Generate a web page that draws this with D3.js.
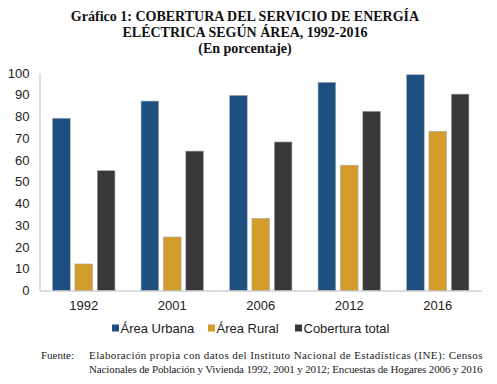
<!DOCTYPE html>
<html>
<head>
<meta charset="utf-8">
<script src="https://cdn.jsdelivr.net/npm/d3@7"></script>
<style>
  body { margin: 0; background: #fff; }
  svg { display: block; }
</style>
</head>
<body>
<div id="chart"></div>
<script>
const years = ['1992', '2001', '2006', '2012', '2016'];
const series = ['Área Urbana', 'Área Rural', 'Cobertura total'];
const urbana = [79.2, 87.1, 89.7, 95.7, 99.2];
const rural = [12.2, 24.6, 33.2, 57.6, 73.2];
const total = [55.1, 64.1, 68.3, 82.4, 90.3];
const yTicks = [0, 10, 20, 30, 40, 50, 60, 70, 80, 90, 100];
const colors = ['#1d4f80', '#d29d2b', '#383838'];
const titleLines = [
  'Gráfico 1: COBERTURA DEL SERVICIO DE ENERGÍA',
  'ELÉCTRICA SEGÚN ÁREA, 1992-2016',
  '(En porcentaje)'
];
const sourceLines = [
  'Elaboración propia con datos del Instituto Nacional de Estadísticas (INE): Censos',
  'Nacionales de Población y Vivienda 1992, 2001 y 2012; Encuestas de Hogares 2006 y 2016'
];

const width = 497;
const height = 384;
const plot = { left: 39.5, right: 482, top: 73, bottom: 290.5 };

const svg = d3.select('#chart').append('svg')
    .attr('width', width)
    .attr('height', height);

// title
svg.append('g')
  .selectAll('text')
  .data(titleLines)
  .join('text')
    .attr('x', 245)
    .attr('y', (d, i) => [21, 37, 53][i])
    .attr('text-anchor', 'middle')
    .attr('font-family', '"Liberation Serif", "Times New Roman", serif')
    .attr('font-weight', 'bold')
    .attr('font-size', 14)
    .attr('fill', '#111')
    .text(d => d);

const x0 = d3.scaleBand()
    .domain(years)
    .range([plot.left, plot.right])
    .paddingInner(0.295)
    .paddingOuter(0.1475);

const x1 = d3.scaleBand()
    .domain(d3.range(series.length))
    .range([0, x0.bandwidth()])
    .paddingInner(0.21);

const y = d3.scaleLinear()
    .domain([0, 100])
    .range([plot.bottom, plot.top]);

const table = years.map((year, i) => ({
  year,
  values: [urbana[i], rural[i], total[i]]
}));

// y axis
const yAxis = svg.append('g')
    .attr('transform', `translate(${plot.left},0)`)
    .call(d3.axisLeft(y).tickValues(yTicks).tickSize(0).tickPadding(10));
yAxis.select('.domain').attr('stroke', '#bbb');
yAxis.selectAll('text')
    .attr('font-family', '"Liberation Sans", Arial, sans-serif')
    .attr('font-size', 13)
    .attr('fill', '#222');

// bars
svg.append('g')
  .selectAll('g')
  .data(table)
  .join('g')
    .attr('transform', d => `translate(${x0(d.year)},0)`)
  .selectAll('rect')
  .data(d => d.values)
  .join('rect')
    .attr('x', (d, i) => x1(i))
    .attr('y', d => y(d))
    .attr('width', x1.bandwidth())
    .attr('height', d => y(0) - y(d))
    .attr('fill', (d, i) => colors[i])
    .attr('stroke', '#aaa')
    .attr('stroke-width', 0.6);

// x axis
const xAxis = svg.append('g')
    .attr('transform', `translate(0,${plot.bottom})`)
    .call(d3.axisBottom(x0).tickSize(0).tickPadding(10).tickSizeOuter(0));
xAxis.select('.domain').attr('stroke', '#bbb');
xAxis.selectAll('text')
    .attr('font-family', '"Liberation Sans", Arial, sans-serif')
    .attr('font-size', 13)
    .attr('fill', '#222');

// legend
const legendX = [112, 208, 295];
const legend = svg.append('g')
  .selectAll('g')
  .data(series)
  .join('g')
    .attr('transform', (d, i) => `translate(${legendX[i]},328)`);

legend.append('rect')
    .attr('x', 0)
    .attr('y', -3.5)
    .attr('width', 7)
    .attr('height', 7)
    .attr('fill', (d, i) => colors[i]);

legend.append('text')
    .attr('x', 8.5)
    .attr('y', 0)
    .attr('dy', '0.35em')
    .attr('font-family', '"Liberation Sans", Arial, sans-serif')
    .attr('font-size', 13)
    .attr('fill', '#222')
    .text(d => d);

// source
const source = svg.append('g')
    .attr('font-family', '"Liberation Serif", "Times New Roman", serif')
    .attr('font-size', 11)
    .attr('fill', '#222');

source.append('text')
    .attr('x', 41)
    .attr('y', 359)
    .text('Fuente:');

source.selectAll('.src')
  .data(sourceLines)
  .join('text')
    .attr('class', 'src')
    .attr('x', 89)
    .attr('y', (d, i) => 359 + i * 14)
    .attr('textLength', 393.5)
    .attr('lengthAdjust', 'spacing')
    .text(d => d);
</script>
</body>
</html>
